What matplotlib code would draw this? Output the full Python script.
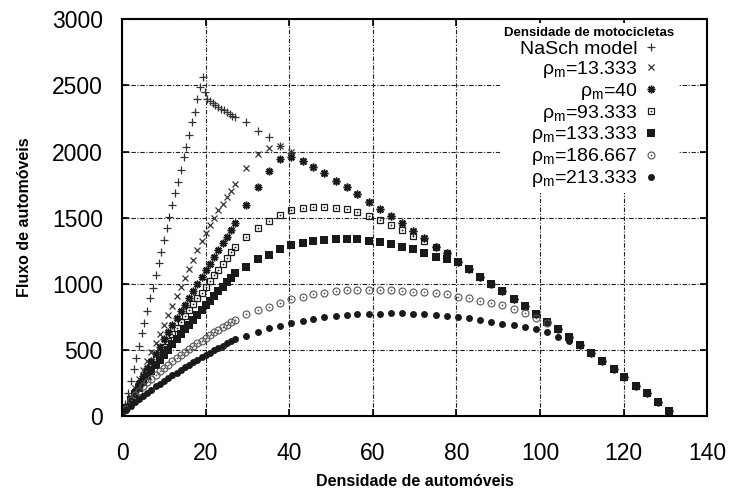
import matplotlib
matplotlib.use("Agg")
import matplotlib.pyplot as plt
from matplotlib.legend_handler import HandlerTuple

plt.rcParams['font.family'] = ['Liberation Sans', 'DejaVu Sans']
plt.rcParams['mathtext.fontset'] = 'custom'
plt.rcParams['mathtext.rm'] = 'Liberation Sans'

# densities (automoveis) - fine sampling region
dense_x = [0, 1, 2, 3, 4, 5, 6, 7, 8, 9, 10, 11, 12, 13, 14, 15, 16, 17, 18, 19,
           20, 21, 22, 23, 24, 25, 26, 27]
# coarse sampling region
sparse_x = [29.7, 32.4, 35.2, 37.7, 40.4, 43.2, 45.7, 48.3, 51.1, 53.7, 56.3, 59.0,
            61.7, 64.3, 67.0, 69.7, 72.3, 75.0, 77.7, 80.3, 83.0, 85.7, 88.3, 91.0,
            93.7, 96.3, 99.0, 101.6, 104.2, 106.9, 109.6, 112.2, 114.9, 117.6, 120.2,
            122.9, 125.5, 128.2, 130.9]
# common congested branch (NaSch) on the coarse grid
jam_flux = [2222, 2158, 2108, 2040, 1985, 1931, 1886, 1836, 1780, 1730, 1677, 1621,
            1566, 1513, 1457, 1402, 1344, 1281, 1231, 1167, 1112, 1049, 998, 948,
            888, 830, 771, 713, 656, 596, 537, 479, 416, 353, 293, 229, 172, 108, 40]

# NaSch model
nasch_free_x = [0.0, 0.7, 1.3, 2.0, 2.7, 3.3, 4.0, 4.7, 5.3, 6.0, 6.7, 7.3, 8.0, 8.7,
                9.3, 10.0, 10.7, 11.3, 12.0, 12.7, 13.3, 14.0, 14.7, 15.3, 16.0, 16.7,
                17.3, 18.0, 18.7, 19.3]
nasch_free_y = [0, 93, 173, 266, 359, 439, 532, 625, 705, 798, 891, 971, 1064, 1157,
                1237, 1330, 1423, 1503, 1596, 1689, 1769, 1862, 1955, 2035, 2128, 2221,
                2301, 2394, 2487, 2567]
nasch_peak_x = [19.9, 20.4, 21.0, 21.7, 22.3, 23.0, 23.7, 24.3, 25.0, 25.7, 26.3, 27.0]
nasch_peak_y = [2453, 2396, 2382, 2368, 2354, 2340, 2325, 2311, 2297, 2283, 2270, 2258]

# motorcycle density series: dense part + own coarse part (then join jam_flux)
rho13_dense = [0, 72, 143, 213, 283, 352, 420, 488, 556, 624, 692, 765, 835, 905, 974,
               1042, 1112, 1182, 1252, 1320, 1385, 1445, 1500, 1555, 1605, 1655, 1705, 1755]
rho13_sparse = [1875, 1978, 2030, 2045, 1999]

rho40_dense = [0, 68, 130, 189, 247, 304, 360, 415, 470, 525, 579, 632, 685, 738, 791,
               843, 896, 948, 999, 1051, 1102, 1153, 1204, 1255, 1306, 1356, 1407, 1457]
rho40_sparse = [1596, 1730, 1853, 1942, 1962]

rho93_dense = [0, 66, 123, 177, 230, 281, 331, 380, 428, 476, 524, 571, 617, 663, 709,
               754, 799, 844, 889, 933, 977, 1021, 1065, 1108, 1151, 1194, 1237, 1280]
rho93_sparse = [1356, 1420, 1477, 1522, 1556, 1574, 1579, 1579, 1576, 1564, 1545, 1513,
                1483, 1445, 1407, 1364, 1326]

rho133_dense = [0, 62, 118, 167, 213, 258, 301, 343, 384, 425, 464, 503, 542, 580, 618,
                655, 692, 729, 765, 801, 837, 872, 907, 942, 977, 1012, 1046, 1080]
rho133_sparse = [1130, 1185, 1218, 1261, 1293, 1311, 1324, 1331, 1337, 1339, 1337, 1326,
                 1319, 1299, 1276, 1261, 1231, 1200, 1185]

rho186_dense = [0, 55, 118, 157, 192, 224, 255, 284, 312, 338, 364, 389, 414, 438, 461,
                484, 506, 528, 550, 571, 592, 612, 632, 653, 672, 692, 711, 730]
rho186_sparse = [771, 802, 827, 857, 885, 902, 920, 933, 945, 953, 955, 956, 956, 955,
                 948, 940, 935, 928, 920, 902, 895, 872, 857, 837, 809, 777, 742, 700]

rho213_dense = [0, 43, 75, 103, 129, 154, 178, 201, 224, 246, 267, 288, 308, 328, 348,
                368, 387, 406, 425, 443, 462, 480, 498, 515, 533, 550, 568, 585]
rho213_sparse = [605, 633, 663, 683, 701, 716, 731, 751, 759, 764, 772, 774, 774, 777,
                 780, 772, 770, 762, 753, 751, 739, 729, 711, 699, 686, 672, 657, 634,
                 600, 565]

labels = ['NaSch model', r'ρ$_\mathregular{m}$=13.333', r'ρ$_\mathregular{m}$=40',
          r'ρ$_\mathregular{m}$=93.333', r'ρ$_\mathregular{m}$=133.333',
          r'ρ$_\mathregular{m}$=186.667', r'ρ$_\mathregular{m}$=213.333']


def joined(dense, own):
    xs = dense_x + sparse_x
    ys = dense + own + jam_flux[len(own):]
    return xs, ys


def alone(dense, own):
    return dense_x + sparse_x[:len(own)], dense + own


fig = plt.figure(figsize=(7.32, 4.93), dpi=100)
ax = fig.add_axes([0.167, 0.156, 0.799, 0.805])

k = '#1a1a1a'
h_nasch, = ax.plot(nasch_free_x + nasch_peak_x + sparse_x, nasch_free_y + nasch_peak_y + jam_flux,
                   ls='none', marker='+', ms=6, mew=0.9, color='#333333')
x, y = joined(rho13_dense, rho13_sparse)
h13, = ax.plot(x, y, ls='none', marker='x', ms=4.5, mew=0.9, color='#333333')
x, y = joined(rho40_dense, rho40_sparse)
h40, = ax.plot(x, y, ls='none', marker=(8, 2, 0), ms=5.5, mew=1.1, color=k)
x, y = joined(rho93_dense, rho93_sparse)
h93a, = ax.plot(x, y, ls='none', marker='s', ms=5, mew=0.9, mfc='none', color=k)
h93b, = ax.plot(x, y, ls='none', marker='o', ms=1.3, mew=0, color=k)
x, y = joined(rho133_dense, rho133_sparse)
h133, = ax.plot(x, y, ls='none', marker='s', ms=5.5, mew=0, color=k)
x, y = alone(rho186_dense, rho186_sparse)
h186a, = ax.plot(x, y, ls='none', marker='o', ms=5, mew=0.8, mfc='none', color='#555555')
h186b, = ax.plot(x, y, ls='none', marker='o', ms=1.3, mew=0, color='#555555')
x, y = alone(rho213_dense, rho213_sparse)
h213, = ax.plot(x, y, ls='none', marker='o', ms=5, mew=0, color=k)

ax.set_xlim(0, 140)
ax.set_ylim(0, 3000)
ax.set_xticks([0, 20, 40, 60, 80, 100, 120, 140])
ax.set_yticks([0, 500, 1000, 1500, 2000, 2500, 3000])
ax.tick_params(direction='in', length=5, width=1.2, top=True, right=True,
               labelsize=16.5, colors='black')
ax.tick_params(axis='x', pad=19)
ax.tick_params(axis='y', pad=14)
for s in ax.spines.values():
    s.set_linewidth(1.5)
ax.grid(True, color='#222222', lw=0.8, ls=(0, (4, 1.5, 1, 1.5)))
ax.set_axisbelow(True)

ax.set_xlabel('Densidade de automóveis', fontsize=11.5, fontweight='bold', labelpad=6)
ax.set_ylabel('Fluxo de automóveis', fontsize=11.5, fontweight='bold', labelpad=14)

leg = ax.legend([h_nasch, h13, h40, (h93a, h93b), h133, (h186a, h186b), h213], labels,
                handler_map={tuple: HandlerTuple(ndivide=1)},
                loc='upper right', bbox_to_anchor=(0.957, 1.0), markerfirst=False,
                fontsize=14, title='Densidade de motocicletas',
                title_fontproperties={'weight': 'bold', 'size': 9.5},
                handlelength=0.8, handletextpad=0.3, labelspacing=0.05,
                borderpad=0.2, borderaxespad=0.2, frameon=True, fancybox=False,
                framealpha=1, edgecolor='none', facecolor='white')

fig.savefig('out.png', dpi=100)
